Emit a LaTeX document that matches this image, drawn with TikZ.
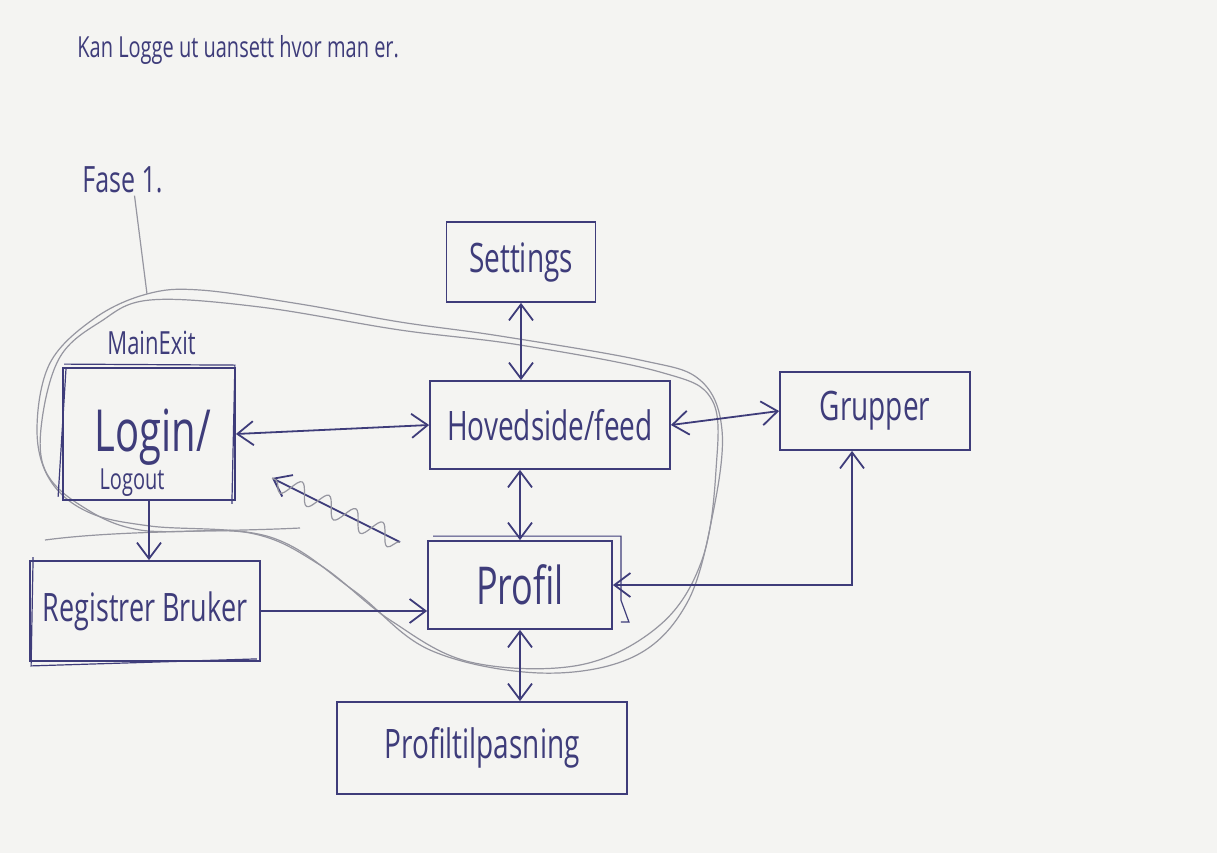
\documentclass[tikz,border=0pt]{standalone}
\usepackage{fontspec}
\setmainfont{Open Sans}
\usetikzlibrary{arrows.meta,decorations.pathmorphing}
\definecolor{paper}{RGB}{244,244,242}
\definecolor{ink}{RGB}{62,60,122}
\definecolor{pencil}{RGB}{150,150,160}
% hand lettering is tall and narrow: stretch the text vertically
\newcommand{\handw}[1]{\scalebox{1}[1.45]{#1}}
\begin{document}
\begin{tikzpicture}[x=0.5pt,y=-0.5pt,
  box/.style={draw=ink, line width=0.9pt, rectangle, inner sep=0pt, text=ink},
  lbl/.style={text=ink, inner sep=1pt},
  link/.style={draw=ink, line width=0.9pt},
  tip/.tip={Straight Barb[length=8pt,width=12pt]},
  both/.style={link, tip-tip},
  one/.style={link, -tip},
  retrace/.style={draw=ink, line width=0.6pt},
  pencilline/.style={draw=pencil, line width=0.6pt},
  scribble/.style={draw=pencil, line width=0.6pt, decorate,
    decoration={snake, amplitude=5pt, segment length=15pt}}]
\fill[paper] (0,0) rectangle (1217,853);
\useasboundingbox (0,0) rectangle (1217,853);

% notes
\node[lbl, anchor=west, font=\fontsize{10}{12}\selectfont] (note) at (75,50)
  {\handw{Kan Logge ut uansett hvor man er.}};
\node[lbl, anchor=west, font=\fontsize{12.5}{14}\selectfont] (fase) at (80,180) {\handw{Fase 1.}};
\node[lbl, anchor=west, font=\fontsize{11}{13}\selectfont] (mainexit) at (105,343) {\handw{MainExit}};

% phase 1 boundary (pencil, two strokes)
\draw[pencilline] plot[smooth cycle, tension=0.6] coordinates {
  (147,294) (200,290) (300,304) (400,322) (500,336) (640,360) (700,380)
  (722,430) (713,513) (687,603) (633,657) (540,673) (430,650) (353,590)
  (270,537) (150,526) (88,512) (50,480) (37,430) (50,363) (95,318)};
\draw[pencilline] plot[smooth cycle, tension=0.6] coordinates {
  (150,300) (260,307) (400,330) (520,345) (660,372) (712,400)
  (716,470) (702,560) (660,625) (580,665) (470,662) (390,620) (320,565)
  (250,533) (140,530) (80,505) (45,470) (42,420) (60,357) (100,322)};
\draw[pencilline] (45,540) .. controls (120,530) and (220,532) .. (300,528);
\coordinate (fasetip) at (147,294);
\draw[pencilline] ([xshift=6pt]fase.south) -- (fasetip);

% screens
\node[box, minimum width=74.5pt, minimum height=40pt, font=\fontsize{14}{16}\selectfont]
  (settings) at (521,262) {\handw{Settings}};
\node[box, minimum width=120pt, minimum height=44pt, font=\fontsize{14}{16}\selectfont]
  (hoved) at (550,425) {\handw{Hovedside/feed}};
\node[box, minimum width=86pt, minimum height=66pt] (login) at (149,434) {};
\node[lbl, font=\fontsize{20}{22}\selectfont] (logintxt) at (153,437) {\handw{Login/}};
\node[lbl, font=\fontsize{10}{12}\selectfont] (logouttxt) at (132,483) {\handw{Logout}};
\node[box, minimum width=95pt, minimum height=39pt, font=\fontsize{14}{16}\selectfont]
  (grupper) at (875,411) {\handw{Grupper}};
\node[box, minimum width=92pt, minimum height=44pt, font=\fontsize{18}{20}\selectfont]
  (profil) at (520,585) {\handw{Profil}};
\node[box, minimum width=115pt, minimum height=50pt, font=\fontsize{13.5}{16}\selectfont]
  (reg) at (145,611) {\handw{Registrer Bruker}};
\node[box, minimum width=145pt, minimum height=46pt, font=\fontsize{14}{16}\selectfont]
  (tilp) at (482,748) {\handw{Profiltilpasning}};

% second pen strokes on the redrawn boxes
\draw[retrace] ([shift={(2,-3)}]login.north west) -- ([shift={(-1,-2)}]login.north east)
  -- ([shift={(-4,3)}]login.south east);
\draw[retrace] ([shift={(-4,-4)}]login.south west) -- ([shift={(4,0)}]login.north west);
\draw[retrace] ([shift={(6,-4)}]profil.north west) -- ([shift={(8,-4)}]profil.north east)
  -- ([shift={(8,15)}]profil.east) -- ([shift={(16,-8)}]profil.south east)
  -- ([shift={(8,-8)}]profil.south east);
\draw[retrace] ([shift={(4,-3)}]reg.north west) -- ([shift={(2,4)}]reg.south west)
  -- ([shift={(-4,-3)}]reg.south east);

% navigation
\draw[both] (login.east) -- (hoved.west);
\draw[both] (settings.south) -- (settings.south |- hoved.north);
\draw[both] (hoved.east) -- (grupper.west);
\draw[both] (profil.north) -- (profil.north |- hoved.south);
\draw[one] (login.south) -- (login.south |- reg.north);
\draw[one] (reg.east) -- (reg.east -| profil.west);
\draw[both] (profil.east) -| ([xshift=-11.5pt]grupper.south);
\draw[both] (profil.south) -- (profil.south |- tilp.north);

% struck-out arrow
\coordinate (xs) at (400,542);
\coordinate (xe) at (272,478);
\draw[one] (xs) -- (xe);
\draw[scribble] (xs) -- (xe);
\end{tikzpicture}
\end{document}
